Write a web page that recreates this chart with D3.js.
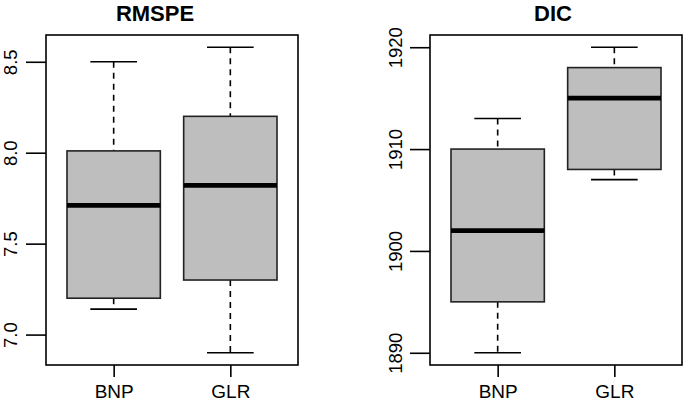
<!doctype html>
<html>
<head>
<meta charset="utf-8">
<title>RMSPE / DIC</title>
<style>
  body { margin: 0; background: #fff; }
  text { font-family: "Liberation Sans", Arial, sans-serif; fill: #000; }
</style>
</head>
<body>
<div id="here"></div>
<script src="https://d3js.org/d3.v7.min.js"></script>
<script>
var w = 685, h = 406;

var groups = ["BNP", "GLR"];
// five-number summaries: lower whisker, Q1, median, Q3, upper whisker
var rmspe = [
  [7.14, 7.20, 7.71, 8.01, 8.50],
  [6.90, 7.30, 7.82, 8.20, 8.58]
];
var dic = [
  [1890, 1895, 1902, 1910, 1913],
  [1907, 1908, 1915, 1918, 1920]
];
var rmspeTicks = [7.0, 7.5, 8.0, 8.5];
var dicTicks = [1890, 1900, 1910, 1920];

var panels = [
  { title: "RMSPE", stats: rmspe, ticks: rmspeTicks, fmt: d3.format(".1f"), left: 46, right: 298, titleX: 155, labX: -29 },
  { title: "DIC", stats: dic, ticks: dicTicks, fmt: d3.format("d"), left: 430, right: 682, titleX: 553, labX: -28 }
];
var plotTop = 35, plotBottom = 365;

var svg = d3.select("#here").append("svg")
  .attr("width", w)
  .attr("height", h);

panels.forEach(function(p) {
  var lo = d3.min(p.stats, function(s) { return s[0]; });
  var hi = d3.max(p.stats, function(s) { return s[4]; });
  var pad = (hi - lo) * 0.04;
  var y = d3.scaleLinear().domain([lo - pad, hi + pad]).range([plotBottom, plotTop]);
  var x = d3.scaleLinear().domain([0.42, 2.58]).range([p.left, p.right]);
  var half = (x(1.4) - x(1)), cap = half / 2;

  var g = svg.append("g");

  var box = g.selectAll("g.box")
    .data(p.stats)
    .enter()
    .append("g")
    .attr("class", "box");

  // whiskers
  box.append("line")
    .attr("x1", function(d, i) { return x(i + 1); })
    .attr("x2", function(d, i) { return x(i + 1); })
    .attr("y1", function(d) { return y(d[4]); })
    .attr("y2", function(d) { return y(d[3]); })
    .attr("stroke", "#000").attr("stroke-width", 1.6).attr("stroke-dasharray", "6,5");
  box.append("line")
    .attr("x1", function(d, i) { return x(i + 1); })
    .attr("x2", function(d, i) { return x(i + 1); })
    .attr("y1", function(d) { return y(d[1]); })
    .attr("y2", function(d) { return y(d[0]); })
    .attr("stroke", "#000").attr("stroke-width", 1.6).attr("stroke-dasharray", "6,5");
  // staples
  [0, 4].forEach(function(k) {
    box.append("line")
      .attr("x1", function(d, i) { return x(i + 1) - cap; })
      .attr("x2", function(d, i) { return x(i + 1) + cap; })
      .attr("y1", function(d) { return y(d[k]); })
      .attr("y2", function(d) { return y(d[k]); })
      .attr("stroke", "#000").attr("stroke-width", 1.6);
  });
  // box
  box.append("rect")
    .attr("x", function(d, i) { return x(i + 1) - half; })
    .attr("width", 2 * half)
    .attr("y", function(d) { return y(d[3]); })
    .attr("height", function(d) { return y(d[1]) - y(d[3]); })
    .attr("fill", "#bebebe")
    .attr("stroke", "#222").attr("stroke-width", 1.6);
  // median
  box.append("line")
    .attr("x1", function(d, i) { return x(i + 1) - half; })
    .attr("x2", function(d, i) { return x(i + 1) + half; })
    .attr("y1", function(d) { return y(d[2]); })
    .attr("y2", function(d) { return y(d[2]); })
    .attr("stroke", "#000").attr("stroke-width", 4.8);

  // frame
  g.append("rect")
    .attr("x", p.left).attr("y", plotTop)
    .attr("width", p.right - p.left).attr("height", plotBottom - plotTop)
    .attr("fill", "none").attr("stroke", "#000").attr("stroke-width", 1.6);

  // y axis
  var ya = g.append("g")
    .attr("transform", "translate(" + p.left + ",0)")
    .call(d3.axisLeft(y).tickValues(p.ticks).tickFormat(p.fmt).tickSize(20));
  ya.select(".domain").remove();
  ya.selectAll("line").attr("stroke", "#000").attr("stroke-width", 1.6);
  ya.selectAll("text")
    .attr("transform", "rotate(-90)")
    .attr("x", 0).attr("y", p.labX).attr("dy", 0)
    .attr("text-anchor", "middle")
    .attr("font-size", 18.5)
    .style("font-family", "Liberation Sans, Arial, sans-serif")
    .attr("fill", "#000");

  // x axis
  var xa = g.append("g")
    .attr("transform", "translate(0," + plotBottom + ")")
    .call(d3.axisBottom(x).tickValues([1, 2]).tickFormat(function(d) { return groups[d - 1]; }).tickSize(12));
  xa.select(".domain").remove();
  xa.selectAll("line").attr("stroke", "#000").attr("stroke-width", 1.6);
  xa.selectAll("text")
    .attr("y", 33).attr("dy", 0)
    .attr("font-size", 19)
    .style("font-family", "Liberation Sans, Arial, sans-serif")
    .attr("fill", "#000");

  // title
  g.append("text")
    .attr("x", p.titleX).attr("y", 21)
    .attr("text-anchor", "middle")
    .attr("font-size", 22)
    .attr("font-weight", "bold")
    .text(p.title);
});
</script>
</body>
</html>
